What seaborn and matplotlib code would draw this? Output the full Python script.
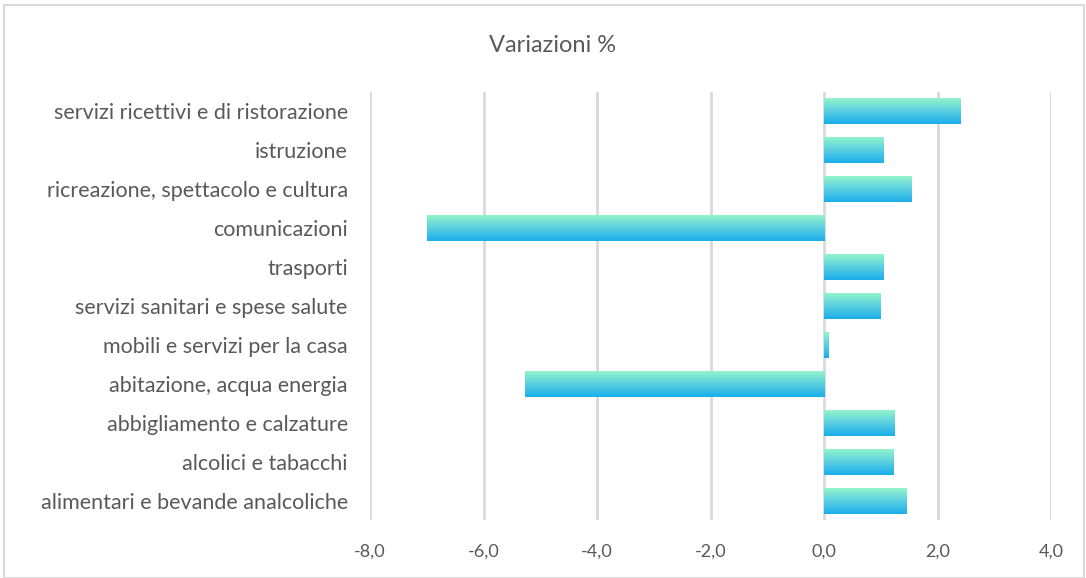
import numpy as np
import pandas as pd
import matplotlib
matplotlib.use("Agg")
import matplotlib.pyplot as plt
import seaborn as sns
from matplotlib.colors import LinearSegmentedColormap
from matplotlib.patches import Rectangle

categories = [
    "servizi ricettivi e di ristorazione",
    "istruzione",
    "ricreazione, spettacolo e cultura",
    "comunicazioni",
    "trasporti",
    "servizi sanitari e spese salute",
    "mobili e servizi per la casa",
    "abitazione, acqua energia",
    "abbigliamento e calzature",
    "alcolici e tabacchi",
    "alimentari e bevande analcoliche",
]
values = [2.4, 1.05, 1.55, -7.0, 1.04, 1.0, 0.08, -5.27, 1.25, 1.22, 1.46]
x_ticks = [-8, -6, -4, -2, 0, 2, 4]
title = "Variazioni %"

sns.set_theme(style="white")
plt.rcParams["font.family"] = ["Lato", "DejaVu Sans"]

df = pd.DataFrame({"categoria": categories, "valore": values})

fig = plt.figure(figsize=(10.86, 5.78), dpi=100)
ax = fig.add_axes([370 / 1086, (578 - 520) / 578, (1051 - 370) / 1086, (520 - 92) / 578])

sns.barplot(data=df, x="valore", y="categoria", orient="h", width=0.67,
            color="#1aaeeb", ax=ax, zorder=2)

# vertical gradient fill (mint on top, blue at the bottom) for each bar
grad = LinearSegmentedColormap.from_list("g", ["#1aaeeb", "#5cd0e0", "#98f7c8"])
gimg = np.linspace(0, 1, 256).reshape(-1, 1)
for p in ax.patches:
    x0, y0 = p.get_x(), p.get_y()
    w, h = p.get_width(), p.get_height()
    p.set_facecolor("none")
    p.set_edgecolor("none")
    im = ax.imshow(gimg, cmap=grad, aspect="auto", origin="upper",
                   extent=(x0, x0 + w, y0, y0 + h), zorder=2)
    im.set_clip_path(p)

ax.set_xlim(-8, 4)
ax.set_ylim(len(categories) - 0.5, -0.5)
ax.set_xticks(x_ticks)
ax.set_xticklabels([f"{t:.1f}".replace(".", ",") for t in x_ticks])
ax.grid(axis="x", color="#d9d9d9", linewidth=2, zorder=0)
ax.grid(axis="y", visible=False)
for s in ax.spines.values():
    s.set_visible(False)
ax.tick_params(axis="both", length=0, colors="#595959")
ax.tick_params(axis="x", pad=17, labelsize=13)
ax.tick_params(axis="y", pad=16, labelsize=15.5)
ax.set_xlabel("")
ax.set_ylabel("")

fig.text(553 / 1086, 1 - 45 / 578, title, ha="center", va="center",
         fontsize=17, color="#595959")

# outer chart border
fig.add_artist(Rectangle((4 / 1086, 0), 1080 / 1086, 1 - 5 / 578,
                         transform=fig.transFigure, fill=False,
                         edgecolor="#d9d9d9", linewidth=1.5))

fig.savefig("out.png", dpi=100)
